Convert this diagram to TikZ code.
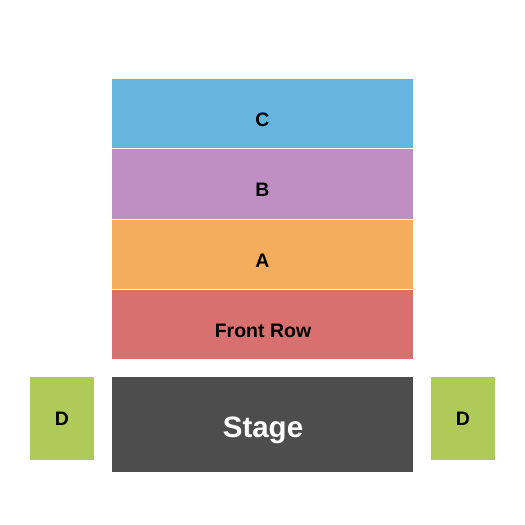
\documentclass[tikz,border=0pt]{standalone}
\usepackage{fontspec}
\setmainfont{Liberation Sans}
\definecolor{cC}{HTML}{66B5DE}
\definecolor{cB}{HTML}{BF8FC3}
\definecolor{cA}{HTML}{F4AD5C}
\definecolor{cF}{HTML}{D97070}
\definecolor{cS}{HTML}{4D4D4D}
\definecolor{cD}{HTML}{AECB5A}
\begin{document}
\begin{tikzpicture}[x=1pt,y=-1pt,
  sec/.style={font=\bfseries\fontsize{19.5}{19.5}\selectfont, text=black, anchor=base, inner sep=0pt}]
\useasboundingbox (0,0) rectangle (525,525);
\fill[cC] (112,79) rectangle (413,148);
\fill[cB] (112,149) rectangle (413,219);
\fill[cA] (112,220) rectangle (413,289);
\fill[cF] (112,290) rectangle (413,359);
\fill[cS] (112,377) rectangle (413,472);
\fill[cD] (30,377) rectangle (94,460);
\fill[cD] (431,377) rectangle (495,460);
\node[sec] (c) at (262.5,126) {C};
\node[sec] (b) at (262.5,196) {B};
\node[sec] (a) at (262.5,267) {A};
\node[sec] (f) at (263,337) {Front Row};
\node[font=\bfseries\fontsize{29.5}{29.5}\selectfont, text=white, anchor=base, inner sep=0pt] (s) at (263,437) {Stage};
\node[sec] (dl) at (62,425) {D};
\node[sec] (dr) at (463,425) {D};
\end{tikzpicture}
\end{document}
